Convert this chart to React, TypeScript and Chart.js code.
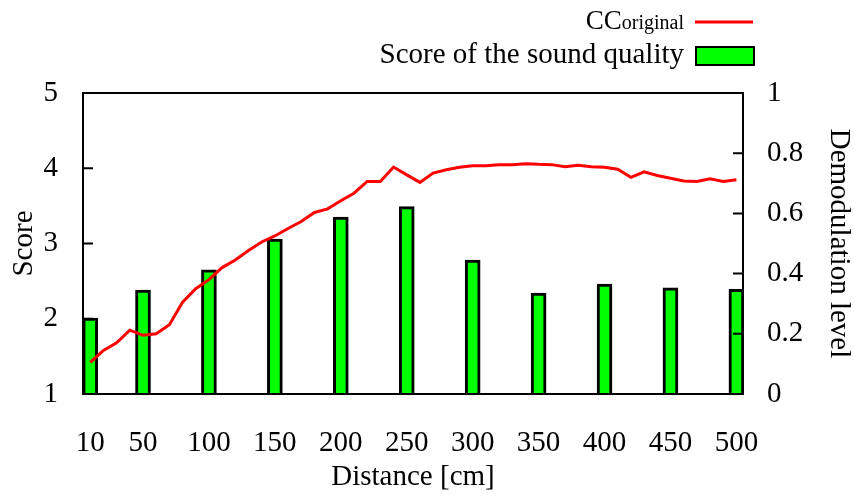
import React, { useEffect, useRef } from "react";
import { Chart, registerables } from "chart.js";

Chart.register(...registerables);

const FONT = '"Liberation Serif", "Times New Roman", serif';

// Score of the sound quality (bars, left axis)
const barDistances = [10, 50, 100, 150, 200, 250, 300, 350, 400, 450, 500];
const barScores = [2.01, 2.38, 2.65, 3.06, 3.35, 3.49, 2.78, 2.34, 2.46, 2.41, 2.39];

// CC_original (line, right axis)
const ccDistances = [
  10, 20, 30, 40, 50, 60, 70, 80, 90, 100,
  110, 120, 130, 140, 150, 160, 170, 180, 190, 200,
  210, 220, 230, 240, 250, 260, 270, 280, 290, 300,
  310, 320, 330, 340, 350, 360, 370, 380, 390, 400,
  410, 420, 430, 440, 450, 460, 470, 480, 490, 500,
];
const ccValues = [
  0.105, 0.145, 0.17, 0.212, 0.195, 0.2, 0.23, 0.305, 0.35, 0.38,
  0.42, 0.445, 0.477, 0.505, 0.525, 0.55, 0.573, 0.603, 0.615, 0.642,
  0.667, 0.706, 0.706, 0.754, 0.728, 0.703, 0.734, 0.745, 0.753, 0.758,
  0.758, 0.762, 0.762, 0.765, 0.763, 0.762, 0.755, 0.76, 0.755, 0.753,
  0.747, 0.72, 0.738, 0.726, 0.717, 0.708, 0.706, 0.715, 0.706, 0.712,
];

const xTickValues = [10, 50, 100, 150, 200, 250, 300, 350, 400, 450, 500];
const leftTickValues = [1, 2, 3, 4, 5];
const rightTickValues = [0, 0.2, 0.4, 0.6, 0.8, 1];

const decorPlugin = {
  id: "decor",
  afterDatasetsDraw(chart: any) {
    const { ctx, chartArea } = chart;
    const { left, right, top, bottom } = chartArea;
    ctx.save();
    ctx.strokeStyle = "#000";
    ctx.lineWidth = 2;
    const yl = chart.scales.y;
    const yr = chart.scales.y1;
    ctx.beginPath();
    leftTickValues.forEach((v) => {
      const p = yl.getPixelForValue(v);
      ctx.moveTo(left, p);
      ctx.lineTo(left + 10, p);
    });
    rightTickValues.forEach((v) => {
      const p = yr.getPixelForValue(v);
      ctx.moveTo(right, p);
      ctx.lineTo(right - 10, p);
    });
    ctx.stroke();
    ctx.strokeRect(left, top, right - left, bottom - top);
    ctx.restore();
  },
  afterDraw(chart: any) {
    const { ctx } = chart;
    ctx.save();
    ctx.fillStyle = "#000";
    ctx.textAlign = "right";
    ctx.textBaseline = "alphabetic";
    ctx.font = `20px ${FONT}`;
    ctx.fillText("original", 684, 29);
    const w = ctx.measureText("original").width;
    ctx.font = `27px ${FONT}`;
    ctx.fillText("CC", 684 - w, 29);
    ctx.strokeStyle = "#ff0000";
    ctx.lineWidth = 3;
    ctx.beginPath();
    ctx.moveTo(695, 22);
    ctx.lineTo(753, 22);
    ctx.stroke();
    ctx.font = `29px ${FONT}`;
    ctx.fillText("Score of the sound quality", 684, 63);
    ctx.fillStyle = "#00ff00";
    ctx.fillRect(696, 47, 58, 18);
    ctx.strokeStyle = "#000";
    ctx.lineWidth = 2;
    ctx.strokeRect(696, 47, 58, 18);
    ctx.restore();
  },
};

export default function App() {
  const ref = useRef<HTMLCanvasElement | null>(null);

  useEffect(() => {
    document.body.style.margin = "0";
    const canvas = ref.current;
    if (!canvas) return;
    const chart = new Chart(canvas, {
      type: "bar",
      data: {
        datasets: [
          {
            type: "line",
            label: "CCoriginal",
            data: ccDistances.map((x, i) => ({ x, y: ccValues[i] })),
            xAxisID: "x",
            yAxisID: "y1",
            borderColor: "#ff0000",
            borderWidth: 3,
            pointRadius: 0,
            tension: 0,
            order: 0,
          } as any,
          {
            type: "bar",
            label: "Score of the sound quality",
            data: barDistances.map((x, i) => ({ x, y: barScores[i] })),
            xAxisID: "x",
            yAxisID: "y",
            backgroundColor: "#00ff00",
            borderColor: "#000000",
            borderWidth: 3,
            barThickness: 15,
            order: 1,
          } as any,
        ],
      },
      options: {
        animation: false,
        responsive: false,
        maintainAspectRatio: false,
        layout: { padding: { top: 93, left: 0, right: 0, bottom: 0 } },
        plugins: { legend: { display: false }, tooltip: { enabled: false } },
        scales: {
          x: {
            type: "linear",
            min: 4.5,
            max: 505,
            offset: false,
            grid: { display: false, drawTicks: false, offset: false },
            border: { display: false },
            afterBuildTicks: (s: any) => {
              s.ticks = xTickValues.map((v) => ({ value: v }));
            },
            afterFit: (s: any) => {
              s.height = 101;
            },
            ticks: {
              autoSkip: false,
              maxRotation: 0,
              minRotation: 0,
              padding: 32,
              color: "#000",
              font: { family: FONT, size: 29 },
              callback: (v: any) => String(v),
            },
            title: {
              display: true,
              text: "Distance [cm]",
              color: "#000",
              font: { family: FONT, size: 29, lineHeight: 1 },
              padding: { top: 0, bottom: 3 },
            },
          },
          y: {
            type: "linear",
            position: "left",
            min: 1,
            max: 5,
            grid: { display: false, drawTicks: false },
            border: { display: false },
            afterBuildTicks: (s: any) => {
              s.ticks = leftTickValues.map((v) => ({ value: v }));
            },
            afterFit: (s: any) => {
              s.width = 83;
            },
            ticks: {
              padding: 25,
              color: "#000",
              font: { family: FONT, size: 29 },
              callback: (v: any) => String(v),
            },
            title: {
              display: true,
              text: "Score",
              color: "#000",
              font: { family: FONT, size: 29, lineHeight: 1 },
              padding: { top: 10, bottom: 0 },
            },
          },
          y1: {
            type: "linear",
            position: "right",
            min: 0,
            max: 1,
            grid: { display: false, drawTicks: false },
            border: { display: false },
            afterBuildTicks: (s: any) => {
              s.ticks = rightTickValues.map((v) => ({ value: v }));
            },
            afterFit: (s: any) => {
              s.width = 111;
            },
            ticks: {
              padding: 24,
              color: "#000",
              font: { family: FONT, size: 29 },
              callback: (v: any) =>
                v === 0 ? "0" : v === 1 ? "1" : Number(v).toFixed(1),
            },
            title: {
              display: true,
              text: "Demodulation level",
              color: "#000",
              font: { family: FONT, size: 29, lineHeight: 1 },
              padding: { top: 1, bottom: 0 },
            },
          },
        },
      },
      plugins: [decorPlugin],
    });
    return () => chart.destroy();
  }, []);

  return (
    <div style={{ width: 854, height: 495, background: "#fff" }}>
      <canvas ref={ref} width={854} height={495} style={{ display: "block" }} />
    </div>
  );
}
